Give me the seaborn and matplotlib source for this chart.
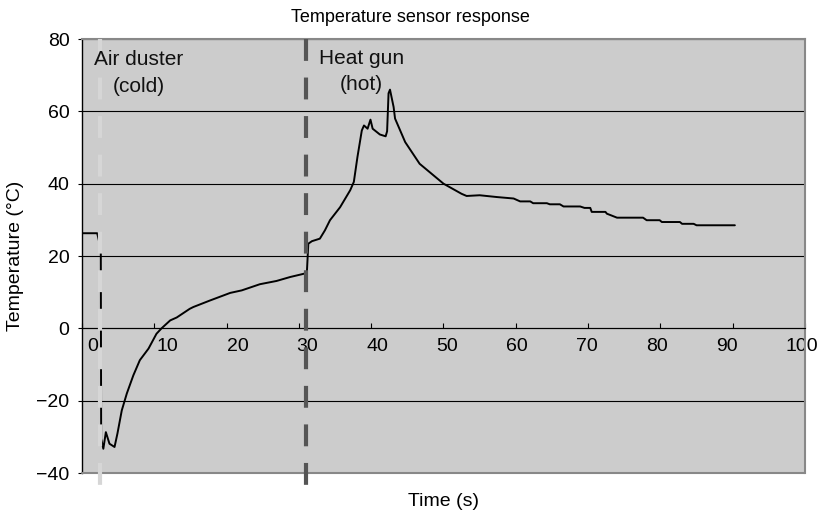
import matplotlib
matplotlib.use("Agg")
import matplotlib.pyplot as plt
import matplotlib.transforms as mtransforms
import numpy as np
import pandas as pd
import seaborn as sns

# Đọc từ đồ thị: thời gian (s) và nhiệt độ cảm biến (°C)
time_s = [0.0, 2.1, 2.6, 2.65, 2.95, 3.3, 3.8, 4.5, 4.9, 5.5, 6.2, 7.1, 8.0,
          9.2, 10.3, 11.0, 12.2, 13.1, 14.9, 15.4, 17.7, 20.5, 22.1, 24.6,
          26.9, 28.8, 30.7, 31.1, 31.3, 31.8, 32.9, 33.6, 34.3, 35.7, 37.1,
          37.6, 38.1, 38.7, 39.0, 39.5, 39.9, 40.2, 41.2, 42.0, 42.2, 42.4,
          42.6, 43.1, 43.3, 44.7, 46.7, 48.5, 50.0, 52.5, 53.2, 55.0, 57.4,
          59.7, 60.6, 62.0, 62.4, 64.3, 64.7, 66.1, 66.6, 68.9, 69.5, 70.3,
          70.5, 72.4, 72.6, 74.0, 77.6, 78.1, 79.9, 80.2, 82.7, 83.0, 84.6,
          85.0, 90.3]
temp_c = [26.3, 26.3, 22.0, -30.5, -33.3, -28.7, -31.9, -32.8, -29.1, -22.7,
          -18.0, -13.0, -8.8, -5.6, -1.5, 0.0, 2.2, 3.0, 5.4, 5.9, 7.7, 9.8,
          10.5, 12.2, 13.1, 14.2, 15.1, 15.3, 23.4, 24.1, 24.8, 27.1, 29.9,
          33.5, 38.2, 40.5, 47.4, 54.7, 56.1, 55.2, 57.7, 55.2, 53.6, 53.1,
          54.5, 65.0, 66.0, 61.2, 58.0, 51.5, 45.5, 42.5, 40.0, 37.2, 36.6,
          36.8, 36.3, 35.9, 35.1, 35.1, 34.6, 34.6, 34.3, 34.3, 33.7, 33.7,
          33.3, 33.3, 32.2, 32.2, 31.7, 30.6, 30.6, 29.9, 29.9, 29.4, 29.4,
          28.9, 28.9, 28.5, 28.5]

event_times = [2.5, 31.0]
event_colors = ['#d6d6d6', '#555555']
event_labels = [("Air duster", "(cold)"), ("Heat gun", "(hot)")]

x_ticks = list(range(0, 101, 10))
y_ticks = list(range(-40, 81, 20))

sns.set_theme(style="white")
plt.rcParams['font.family'] = ['Liberation Sans', 'DejaVu Sans']

fig = plt.figure(figsize=(8.2, 5.16), dpi=100)
ax = fig.add_axes([0.1, 0.0833, 0.8817, 0.8411])
ax.set_facecolor('#cccccc')

df = pd.DataFrame({'Time': time_s, 'Temp': temp_c})
sns.lineplot(data=df, x='Time', y='Temp', ax=ax, color='black', lw=1.4,
             sort=False, estimator=None, zorder=3)

# vạch đánh dấu sự kiện (nét đứt, kéo xuống dưới khung)
for t, c in zip(event_times, event_colors):
    ax.plot([t, t], [80, -46.2], color=c, lw=3, dashes=(5.25, 4),
            clip_on=False, zorder=4)

ax.set_xlim(0, 100)
ax.set_ylim(-40, 80)
ax.set_yticks(y_ticks)
ax.set_xticks(x_ticks)
ax.yaxis.grid(True, color='black', lw=0.8)
ax.xaxis.grid(False)
ax.set_axisbelow(True)

ax.spines['left'].set_color('black')
ax.spines['left'].set_linewidth(1.0)
ax.spines['bottom'].set_position(('data', 0))
ax.spines['bottom'].set_color('black')
ax.spines['bottom'].set_linewidth(0.8)
for s in ['top', 'right']:
    ax.spines[s].set_color('#888888')
    ax.spines[s].set_linewidth(1.5)
ax.axhline(-40, color='#888888', lw=1.5, clip_on=False, zorder=2.6)

ax.tick_params(axis='x', direction='in', length=3.5, width=0.8, color='black',
               pad=7, labelsize=14, labelcolor='black', bottom=True)
ax.tick_params(axis='y', direction='out', length=3, width=0.8, color='black',
               pad=6, labelsize=14, labelcolor='black', left=True)

# nhãn trục x hơi lệch như bản gốc
for val, lab in zip(x_ticks, ax.get_xticklabels()):
    lab.set_horizontalalignment('left')
    shift = (5 - 0.24 * val) / 100
    lab.set_transform(lab.get_transform() +
                      mtransforms.ScaledTranslation(shift, 0, fig.dpi_scale_trans))

ax.set_xlabel("Time (s)", fontsize=14, color='black')
ax.xaxis.set_label_coords(0.5, -0.046)
ax.set_ylabel("Temperature (°C)", fontsize=14, color='black')
ax.yaxis.set_label_coords(-0.080, 0.5)

label_pos = [(7.8, 72.8, 65.3), (38.6, 73.2, 65.8)]
for (l1, l2), (x, y1, y2) in zip(event_labels, label_pos):
    ax.text(x, y1, l1, ha='center', va='baseline', fontsize=15, color='#111111', zorder=5)
    ax.text(x, y2, l2, ha='center', va='baseline', fontsize=15, color='#111111', zorder=5)

fig.text(0.5, 1 - 22 / 516, "Temperature sensor response", ha='center',
         va='baseline', fontsize=13, color='black')

fig.savefig('out.png', dpi=100)
